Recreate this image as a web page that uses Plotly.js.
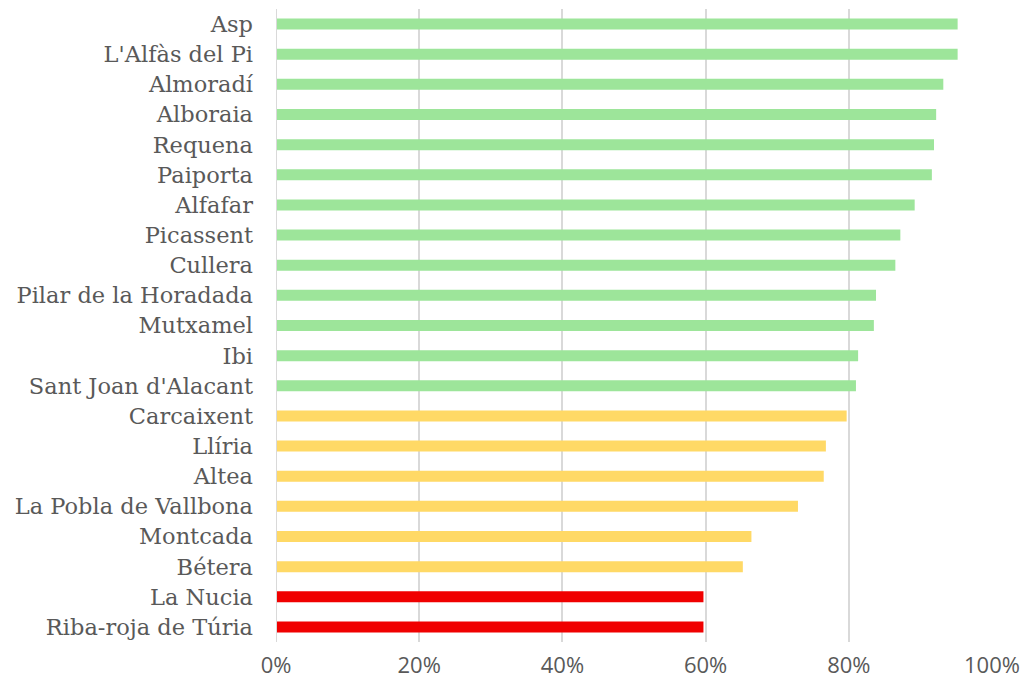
<!DOCTYPE html>
<html>
<head>
<meta charset="utf-8">
<script src="https://cdn.plot.ly/plotly-3.0.1.min.js"></script>
<style>html,body{margin:0;padding:0;background:#fff;}#chart{width:1027px;height:683px;}</style>
</head>
<body>
<div id="chart"></div>
<script>
const municipalities = ["Asp","L'Alfàs del Pi","Almoradí","Alboraia","Requena","Paiporta","Alfafar","Picassent","Cullera","Pilar de la Horadada","Mutxamel","Ibi","Sant Joan d'Alacant","Carcaixent","Llíria","Altea","La Pobla de Vallbona","Montcada","Bétera","La Nucia","Riba-roja de Túria"];
const values = [0.952,0.952,0.932,0.922,0.919,0.916,0.892,0.872,0.865,0.838,0.835,0.813,0.810,0.797,0.768,0.765,0.729,0.664,0.652,0.597,0.597];
const xTickValues = [0,0.2,0.4,0.6,0.8,1.0];

function colorFor(v){
  if (v < 0.6) return '#F00000';
  if (v < 0.8) return '#FFD966';
  return '#9DE59A';
}

const trace = {
  type: 'bar',
  orientation: 'h',
  x: values,
  y: municipalities,
  marker: {color: values.map(colorFor)},
  hoverinfo: 'x+y'
};

const layout = {
  width: 1027, height: 683,
  margin: {l: 276, r: 35, t: 9, b: 41},
  paper_bgcolor: '#fff', plot_bgcolor: '#fff',
  bargap: 0.635,
  showlegend: false,
  xaxis: {
    range: [0, 1.0],
    tickvals: xTickValues,
    tickformat: '.0%',
    showgrid: true, gridcolor: '#D9D9D9', gridwidth: 2,
    zeroline: false, showline: false,
    ticks: '',
    ticklabelstandoff: 8,
    tickfont: {family: 'Open Sans, Noto Sans, sans-serif', size: 22, color: '#595959'},
    fixedrange: true
  },
  yaxis: {
    type: 'category',
    autorange: 'reversed',
    showgrid: false, zeroline: false, showline: false,
    ticks: '',
    ticklabelstandoff: 22,
    tickfont: {family: 'DejaVu Serif, serif', size: 22.5, color: '#595959'},
    fixedrange: true
  },
  shapes: [{type:'line', xref:'x', yref:'paper', x0:0, x1:0, y0:0, y1:1, line:{color:'#D9D9D9', width:2}}]
};

Plotly.newPlot('chart', [trace], layout, {displayModeBar: false, staticPlot: true});
</script>
</body>
</html>
